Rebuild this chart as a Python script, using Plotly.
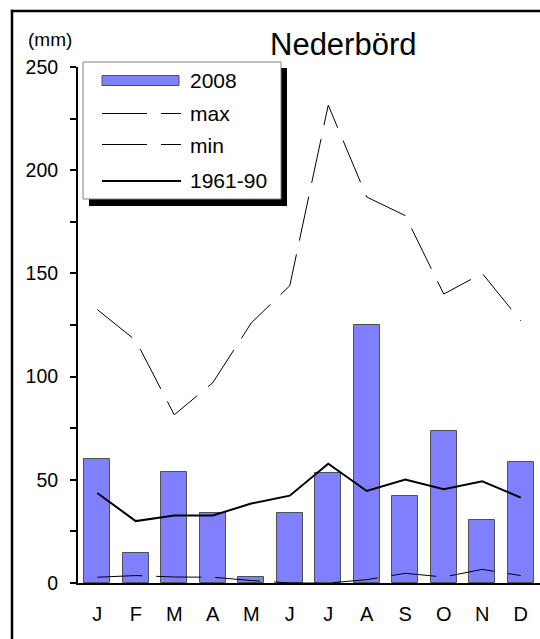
import plotly.graph_objects as go

# ---- data ----
months = ["J", "F", "M", "A", "M", "J", "J", "A", "S", "O", "N", "D"]
month_idx = list(range(12))
rain_2008 = [60, 14.5, 54, 34, 3, 33.7, 53.2, 125, 42.3, 73.5, 30.7, 58.8]
rain_max = [132.5, 117.5, 81.5, 97, 126, 144, 231.5, 187, 178, 140, 150, 127]
rain_min = [2.8, 3.6, 2.9, 2.8, 1.2, 0, 0, 1.6, 4.7, 2.9, 6.6, 3.6]
rain_normal = [43.6, 30, 32.7, 32.7, 38.5, 42.3, 57.8, 44.6, 50.1, 45.4, 49.3, 41.4]
series_names = ["2008", "max", "min", "1961-90"]
y_ticks = [0, 50, 100, 150, 200, 250]

W, H = 540, 639
ML, MR, MT, MB = 78, 0, 67, 56
PW, PH = W - ML - MR, H - MT - MB

def px(x):
    return (x - ML) / PW

def py(y):
    return (H - MB - y) / PH

FONT = "Liberation Sans, Arial, sans-serif"
BAR_COLOR = "#8080FF"
DASH = "45px,14px"

fig = go.Figure()
fig.add_trace(go.Bar(
    x=month_idx, y=rain_2008, name=series_names[0], width=0.675,
    marker=dict(color=BAR_COLOR, line=dict(color="#505050", width=1)),
))
fig.add_trace(go.Scatter(
    x=month_idx, y=rain_max, name=series_names[1], mode="lines",
    line=dict(color="black", width=1, dash=DASH),
))
fig.add_trace(go.Scatter(
    x=month_idx, y=rain_min, name=series_names[2], mode="lines",
    line=dict(color="black", width=1, dash=DASH),
))
fig.add_trace(go.Scatter(
    x=month_idx, y=rain_normal, name=series_names[3], mode="lines",
    line=dict(color="black", width=2),
))

shapes = []
# outer frame (cropped on right/bottom): top and left edges only
shapes.append(dict(type="line", xref="paper", yref="paper",
                   x0=px(10.8), x1=px(545), y0=py(11), y1=py(11),
                   line=dict(color="black", width=2.5)))
shapes.append(dict(type="line", xref="paper", yref="paper",
                   x0=px(12), x1=px(12), y0=py(9.8), y1=py(645),
                   line=dict(color="black", width=2.5)))
# legend shadow + box
shapes.append(dict(type="rect", xref="paper", yref="paper",
                   x0=px(89), x1=px(287), y0=py(68), y1=py(206),
                   line=dict(width=0), fillcolor="black"))
shapes.append(dict(type="rect", xref="paper", yref="paper",
                   x0=px(83), x1=px(281), y0=py(62), y1=py(199),
                   line=dict(color="#808080", width=1), fillcolor="white"))
# legend symbols
shapes.append(dict(type="rect", xref="paper", yref="paper",
                   x0=px(102), x1=px(179), y0=py(75.5), y1=py(85.5),
                   line=dict(color="#505050", width=1), fillcolor=BAR_COLOR))
for yy in (113.5, 144.5):
    shapes.append(dict(type="line", xref="paper", yref="paper",
                       x0=px(102), x1=px(181), y0=py(yy), y1=py(yy),
                       line=dict(color="black", width=1, dash=DASH)))
shapes.append(dict(type="line", xref="paper", yref="paper",
                   x0=px(102), x1=px(181), y0=py(181), y1=py(181),
                   line=dict(color="black", width=2)))

annotations = []
for name, yy in zip(series_names, (80, 113, 145, 181)):
    annotations.append(dict(text=name, xref="paper", yref="paper",
                            x=px(188), y=py(yy), xanchor="left", yanchor="middle",
                            showarrow=False, font=dict(family=FONT, size=21, color="black")))
annotations.append(dict(text="Nederbörd", xref="paper", yref="paper",
                        x=px(343), y=py(45), xanchor="center", yanchor="middle",
                        showarrow=False, font=dict(family=FONT, size=31, color="black")))
annotations.append(dict(text="(mm)", xref="paper", yref="paper",
                        x=px(50), y=py(40), xanchor="center", yanchor="middle",
                        showarrow=False, font=dict(family=FONT, size=19, color="black")))

fig.update_layout(
    width=W, height=H,
    margin=dict(l=ML, r=MR, t=MT, b=MB, pad=0),
    paper_bgcolor="white", plot_bgcolor="white",
    showlegend=False,
    bargap=0,
    font=dict(family=FONT, color="black"),
    shapes=shapes, annotations=annotations,
)
fig.update_xaxes(
    range=[-0.5, 11.5], tickmode="array", tickvals=month_idx, ticktext=months,
    showline=True, linecolor="black", linewidth=2, ticks="",
    showgrid=False, zeroline=False, ticklabelstandoff=12,
    tickfont=dict(family=FONT, size=20, color="black"),
)
fig.update_yaxes(
    range=[0, 250], tickmode="array", tickvals=y_ticks,
    showline=True, linecolor="black", linewidth=2,
    ticks="outside", ticklen=6, tickwidth=1.5, tickcolor="black",
    minor=dict(dtick=25, ticks="outside", ticklen=6, tickwidth=1.5, tickcolor="black"),
    showgrid=False, zeroline=False, ticklabelstandoff=8,
    tickfont=dict(family=FONT, size=19.5, color="black"),
)

fig.write_html(
    "out.html",
    config={"displayModeBar": False},
    post_script="document.body.style.margin='0';document.body.style.overflow='hidden';",
)
